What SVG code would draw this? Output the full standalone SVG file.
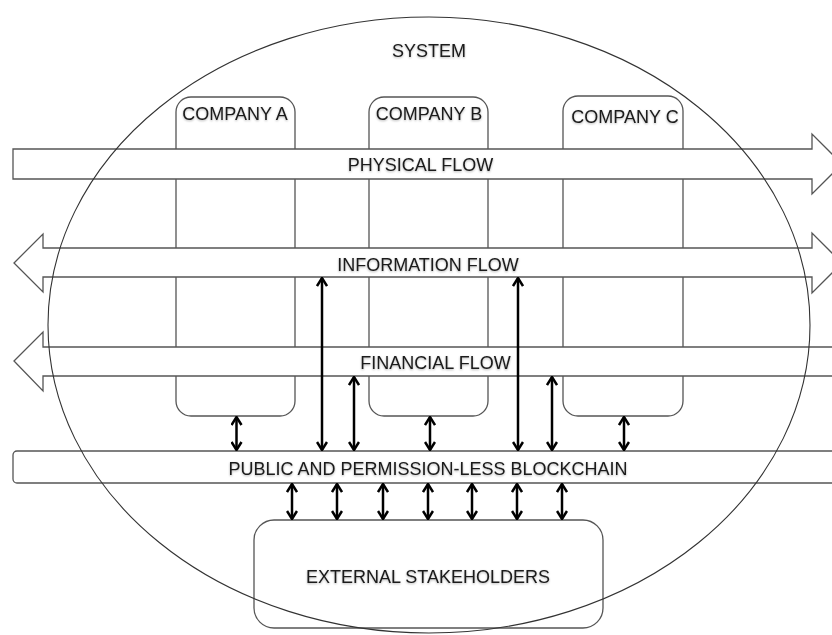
<svg xmlns="http://www.w3.org/2000/svg" width="832" height="635" viewBox="0 0 832 635">
  <defs>
    <style>
      .box { fill: #ffffff; stroke: #555555; stroke-width: 1.3; }
      .flow { fill: #ffffff; stroke: #555555; stroke-width: 1.3; stroke-linejoin: miter; }
      .ell { fill: none; stroke: #333333; stroke-width: 1.1; }
      .lbl { font-family: "Liberation Sans", Arial, sans-serif; font-size: 18px; fill: #1a1a1a; text-anchor: middle; filter: url(#sh); }
      .arr { stroke: #000000; stroke-width: 2.5; fill: none; marker-start: url(#ah); marker-end: url(#ah); }
    </style>
    <filter id="sh" x="-10%" y="-50%" width="120%" height="200%">
      <feDropShadow dx="0" dy="1" stdDeviation="0.9" flood-color="#000000" flood-opacity="0.3"/>
    </filter>
    <marker id="ah" viewBox="0 0 10 12" refX="9" refY="6" markerWidth="10" markerHeight="12" markerUnits="userSpaceOnUse" orient="auto-start-reverse">
      <path d="M1,1 L9,6 L1,11" fill="none" stroke="#000000" stroke-width="2.5" stroke-linejoin="miter"/>
    </marker>
  </defs>
  <rect width="832" height="635" fill="#ffffff"/>

  <g id="company-a">
    <rect class="box" x="176" y="97" width="119" height="319" rx="15"/>
    <text class="lbl" x="235" y="120">COMPANY A</text>
  </g>
  <g id="company-b">
    <rect class="box" x="369" y="97" width="119" height="319" rx="15"/>
    <text class="lbl" x="429" y="120">COMPANY B</text>
  </g>
  <g id="company-c">
    <rect class="box" x="563" y="96" width="120" height="320" rx="15"/>
    <text class="lbl" x="625" y="123">COMPANY C</text>
  </g>

  <g id="physical-flow">
    <path class="flow" d="M13,149 L812,149 L812,134 L842,164 L812,194 L812,179 L13,179 Z"/>
    <text class="lbl" x="420.5" y="171">PHYSICAL FLOW</text>
  </g>
  <g id="information-flow">
    <path class="flow" d="M14,263 L43,234 L43,248 L812,248 L812,233 L842,263 L812,293 L812,277 L43,277 L43,292 Z"/>
    <text class="lbl" x="428" y="271">INFORMATION FLOW</text>
  </g>
  <g id="financial-flow">
    <path class="flow" d="M14,361 L43,332 L43,347 L845,347 L845,376 L43,376 L43,391 Z"/>
    <text class="lbl" x="435.5" y="369">FINANCIAL FLOW</text>
  </g>

  <g id="blockchain">
    <rect class="box" x="13" y="451" width="835" height="32" rx="4"/>
    <text class="lbl" x="428" y="475">PUBLIC AND PERMISSION-LESS BLOCKCHAIN</text>
  </g>

  <g id="external-stakeholders">
    <rect class="box" x="254" y="520" width="349" height="108" rx="20"/>
    <text class="lbl" x="428" y="583">EXTERNAL STAKEHOLDERS</text>
  </g>

  <g id="system">
    <ellipse class="ell" cx="429" cy="325" rx="381" ry="308"/>
    <text class="lbl" x="429" y="57">SYSTEM</text>
  </g>

  <g id="connectors">
    <line class="arr" x1="236.5" y1="417" x2="236.5" y2="450"/>
    <line class="arr" x1="430" y1="417" x2="430" y2="450"/>
    <line class="arr" x1="624" y1="417" x2="624" y2="450"/>
    <line class="arr" x1="322" y1="450" x2="322" y2="278"/>
    <line class="arr" x1="354" y1="450" x2="354" y2="377"/>
    <line class="arr" x1="518" y1="450" x2="518" y2="278"/>
    <line class="arr" x1="552" y1="450" x2="552" y2="377"/>
    <line class="arr" x1="292" y1="484" x2="292" y2="519"/>
    <line class="arr" x1="337" y1="484" x2="337" y2="519"/>
    <line class="arr" x1="383" y1="484" x2="383" y2="519"/>
    <line class="arr" x1="428" y1="484" x2="428" y2="519"/>
    <line class="arr" x1="472" y1="484" x2="472" y2="519"/>
    <line class="arr" x1="517" y1="484" x2="517" y2="519"/>
    <line class="arr" x1="562" y1="484" x2="562" y2="519"/>
  </g>
</svg>
